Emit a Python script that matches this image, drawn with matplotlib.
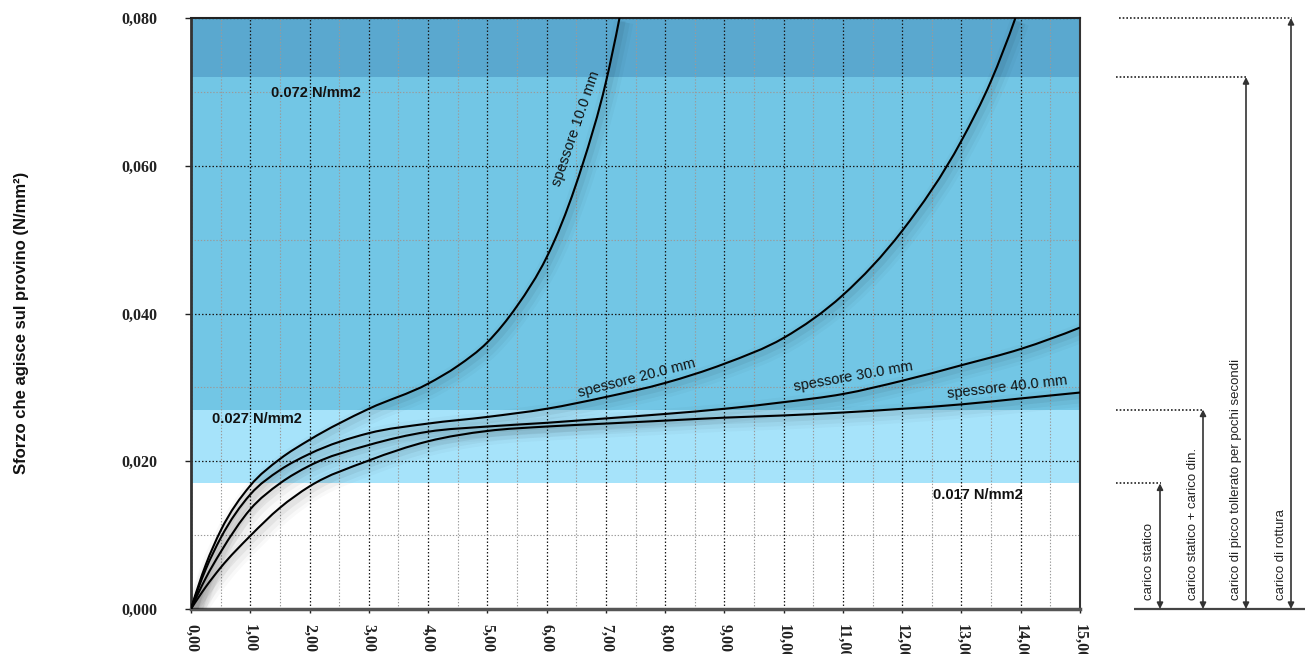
import matplotlib
matplotlib.use("Agg")
import matplotlib.pyplot as plt
import matplotlib.patheffects as pe
import numpy as np
from matplotlib.path import Path
from matplotlib.patches import PathPatch

# ── Dati ─────────────────────────────────────────────────────────────────────
# deformazione (mm) / sforzo (N/mm2) per i quattro spessori
x10 = [0, 0.25, 0.5, 1, 1.5, 2, 3, 4, 4.5, 5, 5.5, 6, 6.14, 6.6, 7.0, 7.23]
y10 = [0, 0.0060, 0.0106, 0.0167, 0.0203, 0.0229, 0.0271, 0.0305, 0.0329,
       0.0361, 0.0410, 0.0476, 0.0500, 0.0600, 0.0713, 0.0800]

x20 = [0, 0.25, 0.5, 1, 1.5, 2, 3, 4, 5, 6, 7, 8, 9, 10, 11, 12, 13, 13.5, 13.91]
y20 = [0, 0.0054, 0.0096, 0.0155, 0.0188, 0.0210, 0.0238, 0.0251, 0.0260,
       0.0271, 0.0287, 0.0306, 0.0332, 0.0367, 0.0425, 0.0512, 0.0634, 0.0715, 0.0800]

x30 = [0, 0.25, 0.5, 1, 1.5, 2, 3, 4, 5, 6, 7, 8, 9, 10, 11, 12, 13, 14, 15]
y30 = [0, 0.0042, 0.0077, 0.0135, 0.0170, 0.0194, 0.0222, 0.0240, 0.0247,
       0.0252, 0.0258, 0.0264, 0.0271, 0.0280, 0.0291, 0.0309, 0.0330, 0.0352, 0.0381]

x40 = [0, 0.25, 0.5, 1, 1.5, 2, 3, 4, 5, 6, 7, 8, 9, 10, 11, 12, 13, 14, 15]
y40 = [0, 0.0030, 0.0056, 0.0099, 0.0137, 0.0166, 0.0201, 0.0227, 0.0241,
       0.0247, 0.0251, 0.0255, 0.0259, 0.0262, 0.0266, 0.0271, 0.0277, 0.0285, 0.0293]

curve_names = ["spessore 10.0 mm", "spessore 20.0 mm",
               "spessore 30.0 mm", "spessore 40.0 mm"]

# soglie di carico (N/mm2)
carico_statico = 0.017
carico_dinamico = 0.027
carico_picco = 0.072
carico_rottura = 0.080

soglie_labels = ["carico statico", "carico statico + carico din.",
                 "carico di picco tollerato per pochi secondi", "carico di rottura"]
soglie_values = [carico_statico, carico_dinamico, carico_picco, carico_rottura]

x_ticks = list(range(0, 16))
y_ticks = [0.0, 0.02, 0.04, 0.06, 0.08]

C_LIGHT = "#a6e3fa"
C_MID = "#72c6e5"
C_DARK = "#5aa8cf"


def smooth_path(xs, ys):
    """Curva liscia passante per i punti (Hermite con tangenti di Bessel) come Bezier cubiche."""
    xs = np.asarray(xs, float)
    ys = np.asarray(ys, float)
    h = np.diff(xs)
    d = np.diff(ys) / h
    n = len(xs)
    m = np.zeros(n)
    for k in range(1, n - 1):
        m[k] = (h[k] * d[k - 1] + h[k - 1] * d[k]) / (h[k - 1] + h[k])
    m[0] = max(((2 * h[0] + h[1]) * d[0] - h[0] * d[1]) / (h[0] + h[1]), d[0])
    m[-1] = ((2 * h[-1] + h[-2]) * d[-1] - h[-1] * d[-2]) / (h[-1] + h[-2])

    verts = [(xs[0], ys[0])]
    codes = [Path.MOVETO]
    for k in range(n - 1):
        verts += [(xs[k] + h[k] / 3, ys[k] + m[k] * h[k] / 3),
                  (xs[k + 1] - h[k] / 3, ys[k + 1] - m[k + 1] * h[k] / 3),
                  (xs[k + 1], ys[k + 1])]
        codes += [Path.CURVE4] * 3
    return Path(verts, codes)


W, H = 1306, 654
fig = plt.figure(figsize=(W / 100, H / 100), dpi=100)
ax = fig.add_axes([191 / W, 45 / H, 889 / W, 591 / H])

# fasce di carico
ax.axhspan(carico_statico, carico_dinamico, color=C_LIGHT, lw=0, zorder=1)
ax.axhspan(carico_dinamico, carico_picco, color=C_MID, lw=0, zorder=1)
ax.axhspan(carico_picco, carico_rottura, color=C_DARK, lw=0, zorder=1)

ax.set_xlim(0, 15)
ax.set_ylim(0, 0.08)

# griglia
ax.set_xticks(x_ticks)
ax.set_xticks(np.arange(0.5, 15, 1.0), minor=True)
ax.set_yticks(y_ticks)
ax.set_yticks([0.01, 0.03, 0.05, 0.07], minor=True)
ax.grid(which="major", color="#1a1a1a", linestyle=(0, (1.2, 1.6)), linewidth=0.9, zorder=1.5)
ax.grid(which="minor", color="#9a9a9a", linestyle=(0, (1.2, 1.6)), linewidth=0.8, zorder=1.5)

# curve con leggera ombra
shadow = [pe.Stroke(offset=(3, -3), linewidth=14, foreground="black", alpha=0.025),
          pe.Stroke(offset=(3, -3), linewidth=9, foreground="black", alpha=0.035),
          pe.Stroke(offset=(2, -2), linewidth=5, foreground="black", alpha=0.05),
          pe.Normal()]
for xs, ys in [(x10, y10), (x20, y20), (x30, y30), (x40, y40)]:
    patch = PathPatch(smooth_path(xs, ys), facecolor="none", edgecolor="black",
                      linewidth=1.5, zorder=3)
    patch.set_path_effects(shadow)
    ax.add_patch(patch)

# etichette curve
label_pos = [(6.5, 0.0650, 71), (7.52, 0.0312, 14.5), (11.17, 0.0314, 10), (13.77, 0.0300, 6.5)]
for name, (lx, ly, rot) in zip(curve_names, label_pos):
    ax.text(lx, ly, name, rotation=rot, rotation_mode="anchor", ha="center", va="center",
            fontsize=10.5, family="Liberation Sans", color="#111111", zorder=4)

# etichette fasce
band_font = dict(fontsize=10.5, fontweight="bold", family="Liberation Sans",
                 color="#111111", ha="center", va="center", zorder=4)
ax.text(2.11, 0.0699, f"{carico_picco:.3f} N/mm2", **band_font)
ax.text(1.12, 0.0257, f"{carico_dinamico:.3f} N/mm2", **band_font)
ax.text(13.28, 0.0154, f"{carico_statico:.3f} N/mm2", **band_font)

# assi
serif_bold = dict(family="Liberation Serif", weight="bold", size=11.5)
ax.set_yticklabels([f"{v:.3f}".replace(".", ",") for v in y_ticks], **serif_bold)
ax.set_xticklabels([f"{v:.2f}".replace(".", ",") for v in x_ticks], rotation=-90,
                   **serif_bold)
ax.tick_params(axis="y", which="major", direction="out", length=4, width=1,
               color="#222222", pad=20, labelcolor="#222222")
ax.tick_params(axis="x", which="major", direction="out", length=3, width=1,
               color="#222222", pad=8, labelcolor="#222222")
ax.tick_params(which="minor", length=0)

ax.spines["left"].set_color("#333333")
ax.spines["left"].set_linewidth(2)
ax.spines["bottom"].set_color("#555555")
ax.spines["bottom"].set_linewidth(2.5)
ax.spines["top"].set_color("#222222")
ax.spines["top"].set_linewidth(1.5)
ax.spines["right"].set_color("#333333")
ax.spines["right"].set_linewidth(1.5)

fig.text(22 / W, 1 - 323 / H, "Sforzo che agisce sul provino (N/mm²)", rotation=90,
         ha="center", va="center", fontsize=12, fontweight="bold",
         family="Liberation Sans", color="#111111")

# ── Legenda laterale delle soglie ────────────────────────────────────────────
ax2 = fig.add_axes([1100 / W, 45 / H, 206 / W, 591 / H])
ax2.set_xlim(1100, 1306)
ax2.set_ylim(0, 0.08)
ax2.axis("off")

ax2.plot([1134, 1305], [0, 0], color="#444444", lw=1.6, clip_on=False,
         solid_capstyle="butt")
arrow_x = [1160, 1203, 1246, 1291]
line_start = [1116, 1116, 1116, 1119]
for label, level, xa, xs0 in zip(soglie_labels, soglie_values, arrow_x, line_start):
    ax2.plot([xs0, xa + 1], [level, level], color="#222222", lw=1.2,
             linestyle=(0, (1, 1.2)), clip_on=False)
    ax2.annotate("", xy=(xa, level), xytext=(xa, 0), annotation_clip=False,
                 arrowprops=dict(arrowstyle="<|-|>", color="#333333", lw=1.2,
                                 mutation_scale=9, shrinkA=0, shrinkB=0))
    ax2.text(xa - 10.5, 0.0012, label, rotation=90, ha="center", va="bottom",
             fontsize=9.5, family="Liberation Sans", color="#222222", clip_on=False)

fig.savefig("out.png", dpi=100)
